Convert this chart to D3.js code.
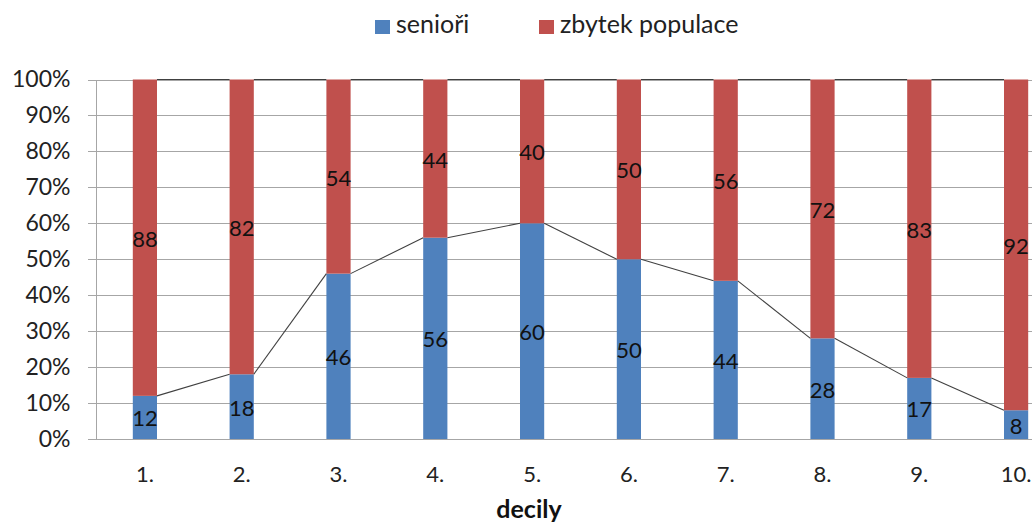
<!DOCTYPE html>
<html><head><meta charset="utf-8">
<script src="https://cdn.jsdelivr.net/npm/d3@7"></script>
<style>body{margin:0;background:#fff;overflow:hidden}svg{display:block}</style>
</head><body>
<svg id="c" width="1032" height="525"></svg>
<script>
const categories = ["1.","2.","3.","4.","5.","6.","7.","8.","9.","10."];
const seniori = [12,18,46,56,60,50,44,28,17,8];
const zbytek = [88,82,54,44,40,50,56,72,83,92];
const yTicks = [0,10,20,30,40,50,60,70,80,90,100];
const seriesNames = ["senioři","zbytek populace"];
const colors = ["#4f81bd","#c0504d"];

const svg = d3.select("#c");
const font = "Lato, 'Open Sans', sans-serif";
const x0 = 96.5, step = 96.8;
const x = d3.scaleBand().domain(categories).range([x0, x0 + step*categories.length]).paddingInner(0.75).paddingOuter(0.375);
const y = d3.scaleLinear().domain([0,100]).range([439,79.5]);

// gridlines
const yAxis = d3.axisLeft(y).tickValues(yTicks).tickFormat(d => d + "%").tickSize(-(1032 - x0)).tickSizeOuter(0).tickPadding(26);
const ga = svg.append("g").attr("transform", `translate(${x0},0)`).call(yAxis);
ga.select(".domain").remove();
ga.selectAll(".tick line").attr("stroke", "#a6a6a6").attr("x1", -9).attr("shape-rendering","crispEdges");
ga.selectAll(".tick text").attr("fill", "#222").style("font-family", font).style("font-size", "23px");

// y axis line
svg.append("line").attr("x1", x0).attr("x2", x0).attr("y1", y(100)).attr("y2", y(0)).attr("stroke", "#a6a6a6").attr("shape-rendering","crispEdges");
// x axis
const xAxis = d3.axisBottom(x).tickSize(0).tickPadding(27);
const gx = svg.append("g").attr("transform", `translate(0,${y(0)})`).call(xAxis);
gx.select(".domain").attr("stroke", "#a6a6a6").attr("d", `M${x0},0H1032`).attr("shape-rendering","crispEdges");
gx.selectAll(".tick text").attr("fill", "#222").style("font-family", font).style("font-size", "22px");

const bw = x.bandwidth();
// bars
const data = categories.map((c,i) => ({c, s: seniori[i], z: zbytek[i]}));
svg.append("g").selectAll("rect.s").data(data).join("rect")
  .attr("x", d => x(d.c)).attr("width", bw)
  .attr("y", d => y(d.s)).attr("height", d => y(0) - y(d.s))
  .attr("fill", colors[0]);
svg.append("g").selectAll("rect.z").data(data).join("rect")
  .attr("x", d => x(d.c)).attr("width", bw)
  .attr("y", d => y(d.s + d.z)).attr("height", d => y(d.s) - y(d.s + d.z))
  .attr("fill", colors[1]);

// series lines
const segs = [];
for (let i = 0; i < data.length - 1; i++) {
  segs.push([x(data[i].c) + bw, y(data[i].s), x(data[i+1].c), y(data[i+1].s)]);
  segs.push([x(data[i].c) + bw, y(data[i].s + data[i].z), x(data[i+1].c), y(data[i+1].s + data[i+1].z)]);
}
svg.append("g").selectAll("line").data(segs).join("line")
  .attr("x1", d => d[0]).attr("y1", d => d[1]).attr("x2", d => d[2]).attr("y2", d => d[3])
  .attr("stroke", "#404040").attr("stroke-width", 1.1);

// labels
const lab = svg.append("g").style("font-family", font).style("font-size", "22px").attr("fill", "#111").attr("text-anchor", "middle");
lab.selectAll("text.s").data(data).join("text")
  .attr("x", d => x(d.c) + bw/2).attr("y", d => (y(0) + y(d.s))/2 + 9)
  .text(d => d.s);
lab.selectAll("text.z").data(data).join("text")
  .attr("x", d => x(d.c) + bw/2).attr("y", d => (y(d.s) + y(d.s + d.z))/2 + 9)
  .text(d => d.z);

// x title
svg.append("text").attr("x", 529).attr("y", 518).attr("text-anchor", "middle")
  .style("font-family", font).style("font-size", "25px").style("font-weight", "bold").attr("fill", "#111").text("decily");

// legend
const legX = [375, 539];
const lg = svg.append("g");
seriesNames.forEach((n, i) => {
  lg.append("rect").attr("x", legX[i]).attr("y", 20).attr("width", 15).attr("height", 14).attr("fill", colors[i]);
  lg.append("text").attr("x", legX[i] + 21).attr("y", 33).style("font-family", font).style("font-size", "25px").attr("fill", "#222").text(n);
});
</script>
</body></html>
